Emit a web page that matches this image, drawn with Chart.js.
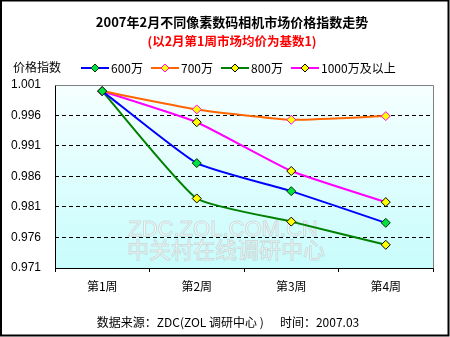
<!DOCTYPE html>
<html>
<head>
<meta charset="utf-8">
<script src="https://cdn.jsdelivr.net/npm/chart.js@4.4.1/dist/chart.umd.min.js"></script>
<style>
  html, body { margin: 0; padding: 0; background: #fff; }
  #wrap { width: 450px; height: 337px; }
</style>
</head>
<body>
<div id="wrap"><canvas id="priceChart" width="450" height="337"></canvas></div>
<script>
// 数据
const weeks = ["第1周", "第2周", "第3周", "第4周"];
const px600 = [1.0, 0.9882, 0.9836, 0.9784];
const px700 = [1.0, 0.9970, 0.9953, 0.9959];
const px800 = [1.0, 0.9824, 0.9786, 0.9748];
const px1000 = [1.0, 0.9949, 0.9869, 0.9818];
const yTicks = [0.971, 0.976, 0.981, 0.986, 0.991, 0.996, 1.001];

const CJK = '"Noto Sans CJK SC", "Noto Sans", sans-serif';

function series(label, data, color, fill, edge) {
  return {
    label: label,
    data: data,
    borderColor: color,
    borderWidth: 2,
    tension: 0.15,
    pointStyle: "rectRot",
    pointRadius: 4.5,
    pointHoverRadius: 4.5,
    pointBackgroundColor: fill,
    pointBorderColor: edge,
    pointBorderWidth: 1,
  };
}

// 绘图区背景、边框、标题、图例、水印、页脚
const decor = {
  id: "decor",
  beforeDraw(chart) {
    const { ctx, chartArea: a } = chart;
    const g = ctx.createLinearGradient(0, a.top, 0, a.bottom);
    g.addColorStop(0, "#f6ffff");
    g.addColorStop(1, "#c8fcfc");
    ctx.save();
    ctx.fillStyle = g;
    ctx.fillRect(a.left, a.top, a.right - a.left, a.bottom - a.top);
    ctx.restore();
  },
  beforeDatasetsDraw(chart) {
    const { ctx } = chart;
    ctx.save();
    ctx.textAlign = "center";
    ctx.textBaseline = "middle";
    ctx.lineWidth = 1;
    ctx.fillStyle = "rgba(250,252,252,0.8)";
    ctx.strokeStyle = "rgba(190,198,198,0.6)";
    ctx.font = "22px Arial, sans-serif";
    ctx.fillText("ZDC.ZOL.COM.CN", 223, 230);
    ctx.strokeText("ZDC.ZOL.COM.CN", 223, 230);
    ctx.font = "22px " + CJK;
    ctx.fillText("中关村在线调研中心", 226, 250);
    ctx.strokeText("中关村在线调研中心", 226, 250);
    ctx.restore();
  },
  afterDraw(chart) {
    const { ctx, chartArea: a } = chart;
    ctx.save();
    // 绘图区边框
    ctx.lineWidth = 1;
    ctx.strokeStyle = "#808080";
    ctx.beginPath();
    ctx.moveTo(a.left + 0.5, a.top + 0.5);
    ctx.lineTo(a.right + 0.5, a.top + 0.5);
    ctx.lineTo(a.right + 0.5, a.bottom + 0.5);
    ctx.stroke();
    ctx.strokeStyle = "#000";
    ctx.beginPath();
    ctx.moveTo(a.left + 0.5, a.top + 0.5);
    ctx.lineTo(a.left + 0.5, a.bottom + 0.5);
    ctx.lineTo(a.right + 0.5, a.bottom + 0.5);
    ctx.stroke();

    // 标题
    ctx.textAlign = "center";
    ctx.textBaseline = "middle";
    ctx.fillStyle = "#000";
    ctx.font = "bold 13px " + CJK;
    ctx.fillText("2007年2月不同像素数码相机市场价格指数走势", 232, 22);
    ctx.fillStyle = "#ff0000";
    ctx.font = "bold 12.5px " + CJK;
    ctx.fillText("(以2月第1周市场均价为基数1)", 232, 41);

    // 轴标题
    ctx.fillStyle = "#000";
    ctx.textAlign = "left";
    ctx.font = "12px " + CJK;
    ctx.fillText("价格指数", 13, 67);

    // 图例
    const starts = [81, 151, 221, 291];
    chart.data.datasets.forEach((ds, i) => {
      const x = starts[i];
      const y = 68;
      ctx.strokeStyle = ds.borderColor;
      ctx.lineWidth = 2;
      ctx.beginPath();
      ctx.moveTo(x, y);
      ctx.lineTo(x + 28, y);
      ctx.stroke();
      ctx.fillStyle = ds.pointBackgroundColor;
      ctx.strokeStyle = ds.pointBorderColor;
      ctx.lineWidth = 1;
      ctx.beginPath();
      ctx.moveTo(x + 14, y - 4);
      ctx.lineTo(x + 18, y);
      ctx.lineTo(x + 14, y + 4);
      ctx.lineTo(x + 10, y);
      ctx.closePath();
      ctx.fill();
      ctx.stroke();
      ctx.fillStyle = "#000";
      ctx.font = "12px " + CJK;
      ctx.fillText(ds.label, x + 30, y);
    });

    // 页脚
    ctx.textAlign = "center";
    ctx.font = "12px " + CJK;
    ctx.fillText("数据来源：ZDC(ZOL 调研中心 )      时间：2007.03", 228, 322);

    // 外框
    ctx.strokeStyle = "#000";
    ctx.lineWidth = 2;
    ctx.strokeRect(1, 0.5, 447.5, 335);
    ctx.restore();
  },
};

new Chart(document.getElementById("priceChart"), {
  type: "line",
  data: {
    labels: weeks,
    datasets: [
      series("600万", px600, "#0000ff", "#00e040", "#003300"),
      series("700万", px700, "#ff6600", "#ffff00", "#ff00ff"),
      series("800万", px800, "#008000", "#ffff00", "#000000"),
      series("1000万及以上", px1000, "#ff00ff", "#ffff00", "#000000"),
    ],
  },
  options: {
    responsive: false,
    animation: false,
    layout: { padding: { left: 0, right: 17, top: 85, bottom: 39 } },
    plugins: {
      legend: { display: false },
      tooltip: { enabled: false },
    },
    scales: {
      x: {
        offset: true,
        afterFit(scale) { scale.height = 30; },
        grid: {
          offset: true,
          drawOnChartArea: false,
          drawTicks: true,
          tickLength: 4,
          tickColor: "#000",
          color: "#000",
        },
        border: { display: false },
        ticks: {
          color: "#000",
          padding: 7,
          font: { family: CJK, size: 12 },
        },
      },
      y: {
        min: 0.971,
        max: 1.001,
        afterFit(scale) { scale.width = 55; },
        afterBuildTicks(scale) {
          scale.ticks = yTicks.map((v) => ({ value: v }));
        },
        grid: {
          drawTicks: false,
          color: (c) =>
            c.index === 0 || c.index === yTicks.length - 1 ? "rgba(0,0,0,0)" : "#000",
          lineWidth: 1,
        },
        border: { display: false, dash: [4, 3] },
        ticks: {
          color: "#000",
          padding: 14,
          font: { family: "Arial, 'Liberation Sans', sans-serif", size: 12 },
          callback: (v) => v.toFixed(3),
        },
      },
    },
  },
  plugins: [decor],
});
</script>
</body>
</html>
